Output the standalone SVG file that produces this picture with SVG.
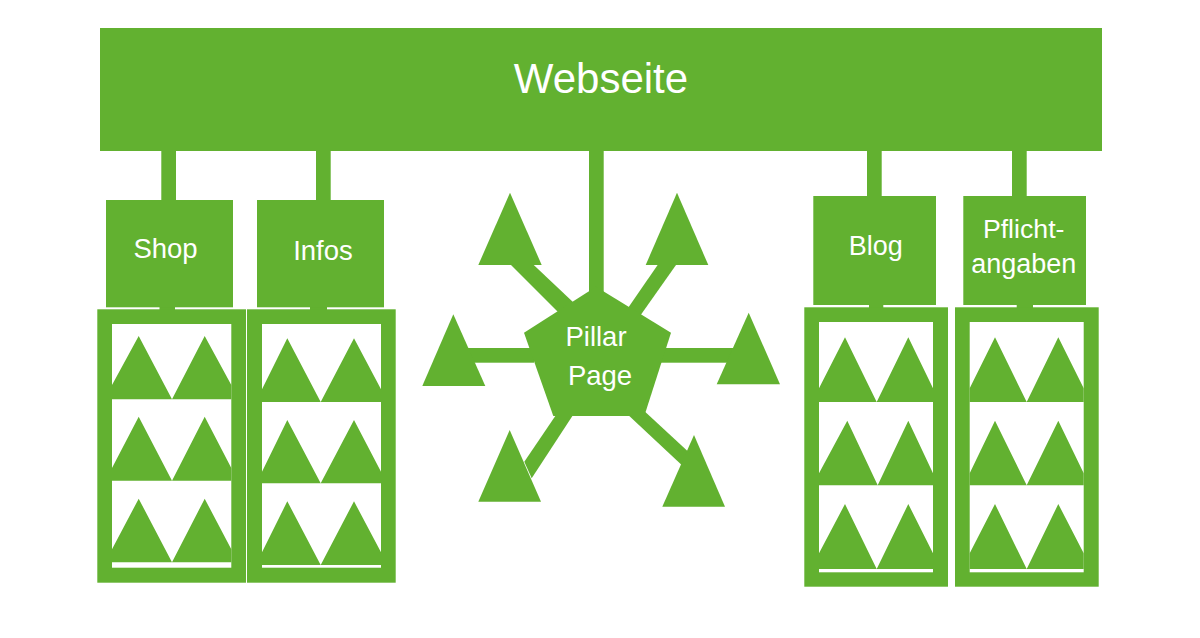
<svg xmlns="http://www.w3.org/2000/svg" width="1200" height="638" viewBox="0 0 1200 638">
<style>
.g{fill:#62b130}
.w{fill:#fff}
text{fill:#fff;font-family:"Liberation Sans",Arial,sans-serif;font-size:27.5px;text-anchor:middle}
</style>
<rect width="1200" height="638" fill="#fff"/>
<g id="connectors" class="g">
<rect x="161.3" y="150" width="14.7" height="51"/>
<rect x="316" y="150" width="14.7" height="51"/>
<rect x="589" y="150" width="14.7" height="142"/>
<rect x="867" y="150" width="14.7" height="47"/>
<rect x="1012" y="150" width="14.7" height="47"/>
<rect x="159.5" y="306" width="15.5" height="5"/>
<rect x="310" y="306" width="17" height="5"/>
<rect x="869" y="304" width="14.3" height="5"/>
<rect x="1016.7" y="304" width="16.3" height="5"/>
<polygon points="510,264 532.7,264 574,303 562,316"/>
<polygon points="658.3,264 676.7,264 640,316 628,308"/>
<rect x="468" y="348" width="66" height="14.7"/>
<rect x="660" y="348" width="80" height="14.7"/>
<polygon points="558,412 575,412 531.7,478.3 524.3,461.7"/>
<polygon points="625,412 641,408 688.3,451.7 681.7,465"/>
</g>
<g id="webseite"><rect class="g" x="100" y="28" width="1002" height="123"/><text x="601" y="93" style="font-size:42px">Webseite</text></g>
<g id="shop"><rect class="g" x="106" y="200" width="127" height="107.3"/><text x="165.5" y="258.3">Shop</text></g>
<g id="infos"><rect class="g" x="257" y="200" width="127" height="107.3"/><text x="323" y="260">Infos</text></g>
<g id="blog"><rect class="g" x="813.3" y="196" width="122.7" height="109"/><text x="875.7" y="255" style="font-size:27px">Blog</text></g>
<g id="pflichtangaben"><rect class="g" x="963.3" y="196" width="122.7" height="109"/><text x="1023.7" y="238.3" style="font-size:26.7px">Pflicht-</text><text x="1023.7" y="272.7" style="font-size:27px">angaben</text></g>
<g id="pillar-page"><polygon class="g" points="596,286.7 671,332.7 644.3,416 553.3,416 524,332.7"/><text x="596" y="346">Pillar</text><text x="600" y="385">Page</text></g>
<g id="satellites" class="g">
<polygon id="sat-ul" points="510,192.7 541.7,265 478.3,265"/>
<polygon id="sat-ur" points="677,192.7 708.3,265 645.7,265"/>
<polygon id="sat-l" points="453.3,314.3 485.3,386 422.3,386"/>
<polygon id="sat-r" points="748.7,312.7 780,384.3 716.7,384.3"/>
<polygon id="sat-ll" points="509.7,430 541,501.7 478.3,501.7"/>
<polygon id="sat-lr" points="694,435 725,506.7 662.3,506.7"/>
</g>
<g id="panel-shop">
<rect class="g" x="97.3" y="309.3" width="148.7" height="273.4"/>
<rect class="w" x="112" y="324" width="119.3" height="243.7"/>
<g class="g">
<polygon points="112,385 138.7,336 172,399.3 204.7,336 231.3,385 231.3,399.3 112,399.3"/>
<polygon points="112,468 138.7,416.7 172,480.7 204.7,416.7 231.3,468 231.3,480.7 112,480.7"/>
<polygon points="112,549.3 138.7,498.7 172,562.3 204.7,498.7 231.3,549.3 231.3,562.3 112,562.3"/>
</g>
</g>
<g id="panel-infos">
<rect class="g" x="247" y="309.3" width="148.7" height="273.4"/>
<rect class="w" x="262" y="324" width="119" height="243.7"/>
<g class="g">
<polygon points="262,389.3 287.3,338.3 320.7,402 354,338.3 381,389.3 381,402 262,402"/>
<polygon points="262,471.7 287.3,420 320.7,483.3 354,420 381,471.7 381,483.3 262,483.3"/>
<polygon points="262,552.3 287.3,501.3 320.7,565 354,501.3 381,552.3 381,565 262,565"/>
</g>
</g>
<g id="panel-blog">
<rect class="g" x="804.3" y="307.3" width="143.7" height="279.4"/>
<rect class="w" x="819" y="322" width="114" height="250.3"/>
<g class="g">
<polygon points="819,388.3 845,337.3 876.7,402 908.3,337.3 933,388.3 933,402 819,402"/>
<polygon points="819,473.3 847.3,420.7 877.7,485.3 908.3,420.7 933,473.3 933,485.3 819,485.3"/>
<polygon points="819,553.3 845,504 876.7,569 908.3,504 933,553.3 933,569 819,569"/>
</g>
</g>
<g id="panel-pflichtangaben">
<rect class="g" x="955" y="307.3" width="143.7" height="279.4"/>
<rect class="w" x="969.7" y="322" width="114" height="250.3"/>
<g class="g">
<polygon points="969.7,388.3 995,337.3 1026.7,402 1058.3,337.3 1083.7,388.3 1083.7,402 969.7,402"/>
<polygon points="969.7,473.3 995,420.7 1026.7,485.3 1058.3,420.7 1083.7,473.3 1083.7,485.3 969.7,485.3"/>
<polygon points="969.7,553.3 995,504 1026.7,569 1058.3,504 1083.7,553.3 1083.7,569 969.7,569"/>
</g>
</g>
</svg>
